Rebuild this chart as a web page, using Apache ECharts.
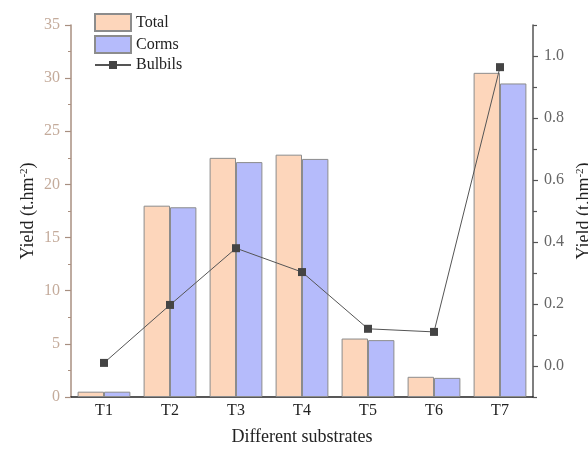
<!DOCTYPE html>
<html>
<head>
<meta charset="utf-8">
<script src="https://cdn.jsdelivr.net/npm/echarts@6/dist/echarts.min.js"></script>
<style>
html,body{margin:0;padding:0;background:#fff;}
#chart{width:588px;height:458px;}
</style>
</head>
<body>
<div id="chart"></div>
<script>
var categories = ['T1','T2','T3','T4','T5','T6','T7'];
var totalYield = [0.5, 18.0, 22.5, 22.8, 5.5, 1.9, 30.5];
var cormsYield = [0.5, 17.85, 22.1, 22.4, 5.35, 1.8, 29.5];
var bulbilsYield = [0.01, 0.197, 0.38, 0.303, 0.12, 0.11, 0.964];
var rightMajorTicks = [0, 0.2, 0.4, 0.6, 0.8, 1.0];
var rightMinorTicks = [-0.1, 0.1, 0.3, 0.5, 0.7, 0.9, 1.1];

var serif = 'Liberation Serif';
var chart = echarts.init(document.getElementById('chart'));
var nameRich = {
  n: {fontFamily: serif, fontSize: 18, color: '#222'},
  s: {fontFamily: serif, fontSize: 11, color: '#222', verticalAlign: 'top', padding: [0,0,8,0]}
};
chart.setOption({
  animation: false,
  backgroundColor: '#fff',
  grid: {left: 71, right: 55, top: 25, bottom: 61, containLabel: false, outerBoundsMode: 'none'},
  legend: [{
    orient: 'vertical', left: 94, top: 13, padding: 0,
    itemWidth: 36, itemHeight: 17, itemGap: 3,
    textStyle: {fontFamily: serif, fontSize: 16, color: '#222'},
    data: [{name: 'Total', icon: 'rect'}, {name: 'Corms', icon: 'rect'}]
  }, {
    orient: 'vertical', left: 94, top: 57, padding: 0,
    itemWidth: 36, itemHeight: 10,
    textStyle: {fontFamily: serif, fontSize: 16, color: '#222'},
    data: ['Bulbils']
  }],
  xAxis: [{
    type: 'category', data: categories, position: 'bottom',
    name: 'Different substrates', nameLocation: 'middle', nameGap: 31, nameMoveOverlap: false,
    nameTextStyle: {fontFamily: serif, fontSize: 18, color: '#222'},
    axisLine: {lineStyle: {color: '#222', width: 1.5}},
    axisTick: {alignWithLabel: true, length: 5, lineStyle: {color: '#222', width: 1.5}},
    axisLabel: {fontFamily: serif, fontSize: 16, color: '#222', margin: 6}
  }, {
    type: 'category', data: categories, position: 'bottom',
    axisLine: {show: false},
    axisTick: {length: 3, lineStyle: {color: '#222', width: 1.2}},
    axisLabel: {show: false}
  }],
  yAxis: [{
    type: 'value', min: 0, max: 35, interval: 5, position: 'left',
    name: '{n|Yield (t.hm}{s|-2}{n|)}', nameLocation: 'middle', nameGap: 33, nameMoveOverlap: false,
    nameTextStyle: {rich: nameRich},
    axisLine: {show: true, lineStyle: {color: '#a88f80', width: 1.5}},
    axisTick: {show: true, length: 6, lineStyle: {color: '#a88f80', width: 1.2}},
    minorTick: {show: true, splitNumber: 2, length: 3, lineStyle: {color: '#a88f80', width: 1}},
    axisLabel: {fontFamily: serif, fontSize: 16, color: '#c4ab9b', margin: 11},
    splitLine: {show: false}
  }, {
    type: 'value', min: -0.1, max: 1.1, position: 'right',
    name: '{n|Yield (t.hm}{s|-2}{n|)}', nameLocation: 'middle', nameGap: 42, nameMoveOverlap: false,
    nameRotate: 90,
    nameTextStyle: {rich: nameRich},
    axisLine: {show: true, lineStyle: {color: '#555', width: 1.5}},
    axisTick: {show: true, length: 5, customValues: rightMajorTicks, lineStyle: {color: '#555', width: 1.2}},
    axisLabel: {fontFamily: serif, fontSize: 16, color: '#666', margin: 11, customValues: rightMajorTicks,
      formatter: function (v) { return v.toFixed(1); }},
    splitLine: {show: false}
  }, {
    type: 'value', min: -0.1, max: 1.1, position: 'right',
    axisLine: {show: false},
    axisTick: {show: true, length: 4, customValues: rightMinorTicks, lineStyle: {color: '#555', width: 1.2}},
    axisLabel: {show: false, customValues: rightMinorTicks},
    splitLine: {show: false}
  }],
  series: [{
    name: 'Total', type: 'bar', data: totalYield, yAxisIndex: 0,
    barGap: '0%', barCategoryGap: '20%',
    itemStyle: {color: '#fdd6bb', borderColor: '#8c8c8c', borderWidth: 1}
  }, {
    name: 'Corms', type: 'bar', data: cormsYield, yAxisIndex: 0,
    barGap: '0%', barCategoryGap: '20%',
    itemStyle: {color: '#b5bbfb', borderColor: '#8c8c8c', borderWidth: 1}
  }, {
    name: 'Bulbils', type: 'line', data: bulbilsYield, yAxisIndex: 1, z: 5,
    symbol: 'rect', symbolSize: 8,
    lineStyle: {color: '#555', width: 1},
    itemStyle: {color: '#444'}
  }]
});
</script>
</body>
</html>
